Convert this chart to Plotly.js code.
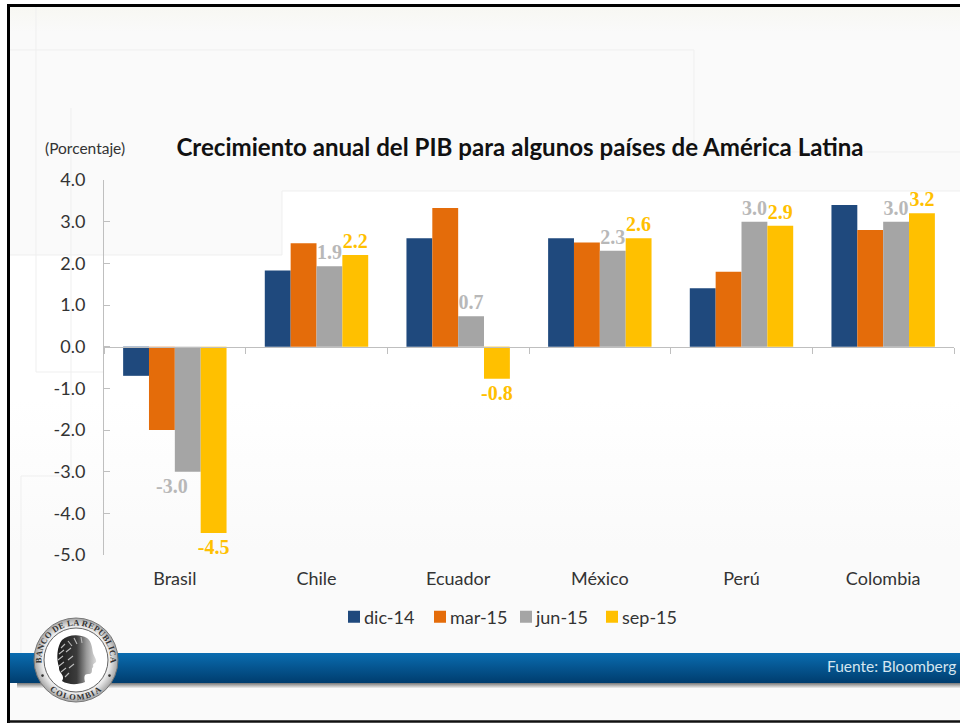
<!DOCTYPE html>
<html><head><meta charset="utf-8">
<script src="https://cdn.plot.ly/plotly-3.0.1.min.js"></script>
<style>
html,body{margin:0;padding:0;background:#fff;overflow:hidden}
#stage{position:relative;width:960px;height:723px}
#bg,#logo{position:absolute;left:0;top:0}
#chart{position:absolute;left:0;top:0;width:960px;height:723px}
#logo{pointer-events:none}
</style></head><body>
<div id="stage">
<svg id="bg" width="960" height="723">
<defs>
<linearGradient id="fade" x1="0" y1="0" x2="0" y2="1"><stop offset="0" stop-color="#fafafa" stop-opacity="0"/><stop offset="1" stop-color="#fafafa" stop-opacity="1"/></linearGradient>
<linearGradient id="topfade" x1="0" y1="0" x2="0" y2="1"><stop offset="0" stop-color="#f7f7f2"/><stop offset="1" stop-color="#fafafa"/></linearGradient>
<linearGradient id="band" x1="0" y1="0" x2="0" y2="1"><stop offset="0" stop-color="#0a6cb0"/><stop offset="1" stop-color="#003d6e"/></linearGradient>
<linearGradient id="shadow" x1="0" y1="0" x2="0" y2="1"><stop offset="0" stop-color="#777"/><stop offset="1" stop-color="#eee"/></linearGradient>
</defs>
<rect x="0" y="0" width="960" height="723" fill="#fff"/>
<rect x="8" y="6" width="952" height="715" fill="#fafafa"/>
<rect x="8" y="6" width="952" height="26" fill="url(#topfade)"/>
<path d="M9 255H282V191H960V400H9Z" fill="#fff"/>
<rect x="9" y="400" width="951" height="150" fill="#fff"/>
<rect x="9" y="400" width="951" height="150" fill="url(#fade)"/>
<g fill="none" stroke="#efefef" stroke-width="1">
<path d="M9 50H694V152H960"/>
<path d="M36 7V372H104"/>
<path d="M10 255H282V191H960"/>
<path d="M71 108V476H21V653"/>
</g>
<rect x="9" y="653" width="951" height="30" fill="url(#band)"/>
<rect x="17" y="683" width="943" height="5" fill="url(#shadow)"/>
<path d="M8.5 723V5.5H960" fill="none" stroke="#000" stroke-width="3"/>
<path d="M8 721.5H960" fill="none" stroke="#111" stroke-width="2.5"/>
</svg>
<div id="chart"></div>
<svg id="logo" width="960" height="723">
<defs>
<radialGradient id="ring" cx="0.5" cy="0.5" r="0.5"><stop offset="0.8" stop-color="#ececec"/><stop offset="1" stop-color="#a5a5a5"/></radialGradient>
<linearGradient id="face" x1="0" y1="0" x2="1" y2="0"><stop offset="0" stop-color="#1c1c1c"/><stop offset="0.5" stop-color="#3c3c3c"/><stop offset="0.75" stop-color="#999"/><stop offset="1" stop-color="#dcdcdc"/></linearGradient>
<path id="arcTop" d="M43.6 671.8A34.5 34.5 0 1 1 108.4 671.8"/>
<path id="arcBot" d="M45.4 685.7A40 40 0 0 0 106.6 685.7"/>
</defs>
<circle cx="76" cy="660" r="42" fill="url(#ring)" stroke="#777" stroke-width="1"/>
<circle cx="76" cy="660" r="32" fill="#fff" stroke="#666" stroke-width="1"/>
<text font-family="Liberation Serif" font-weight="bold" font-size="8.5" fill="#333" letter-spacing="0.2"><textPath href="#arcTop" startOffset="50%" text-anchor="middle">BANCO DE LA REPUBLICA</textPath></text>
<text font-family="Liberation Serif" font-weight="bold" font-size="8.5" fill="#333" letter-spacing="1.2"><textPath href="#arcBot" startOffset="50%" text-anchor="middle">COLOMBIA</textPath></text>
<circle cx="42.5" cy="675.6" r="1.3" fill="#333"/><circle cx="109.5" cy="675.6" r="1.3" fill="#333"/>
<path d="M62 640C68 634 80 634 87 638C92 642 92 648 93 653C94 656 97 660 96 662C95 663 93 664 93 665C94 667 92 668 92 669C92 672 92 674 88 674C84 674 84 677 85 682C78 685 68 685 62 681C66 675 58 673 59 667C56 659 57 646 62 640Z" fill="url(#face)"/>
<path d="M61 648L65 644M59 654L64 650M58 660L63 656M59 666L64 662M61 672L66 668M65 677L69 673M68 641L72 646M74 638L77 644M81 637L82 643M66 652L71 648M68 660L73 656M69 668L74 664" stroke="#bbb" stroke-width="1.1" fill="none"/>
</svg>
</div>
<script>
var categories = ["Brasil","Chile","Ecuador","México","Perú","Colombia"];
var seriesNames = ["dic-14","mar-15","jun-15","sep-15"];
var dic14 = [-0.7,1.83,2.6,2.6,1.4,3.4];
var mar15 = [-2.0,2.48,3.33,2.5,1.8,2.8];
var jun15 = [-3.0,1.93,0.73,2.3,3.0,3.0];
var sep15 = [-4.47,2.2,-0.77,2.6,2.9,3.2];
var jun15Labels = ["","1.9","0.7","2.3","3.0","3.0"];
var sep15Labels = ["-4.5","2.2","-0.8","2.6","2.9","3.2"];
var brasilJunLabel = "-3.0";
var yTicks = [4,3,2,1,0,-1,-2,-3,-4,-5];
var yTickLabels = ["4.0","3.0","2.0","1.0","0.0","-1.0","-2.0","-3.0","-4.0","-5.0"];
var titleText = "Crecimiento anual del PIB para algunos países de América Latina";
var unitText = "(Porcentaje)";
var sourceText = "Fuente: Bloomberg";
var colors = ["#1F497D","#E46C0A","#A5A5A5","#FFC000"];
var FONT = "Lato, 'Open Sans', sans-serif";
var labelFont = "'Liberation Serif', serif";
var traces = [
 {type:"bar",name:seriesNames[0],x:categories,y:dic14,marker:{color:colors[0]},hoverinfo:"x+y"},
 {type:"bar",name:seriesNames[1],x:categories,y:mar15,marker:{color:colors[1]},hoverinfo:"x+y"},
 {type:"bar",name:seriesNames[2],x:categories,y:jun15,marker:{color:colors[2]},text:jun15Labels,textposition:"outside",cliponaxis:false,textangle:0,constraintext:"none",
  textfont:{family:labelFont,size:20,color:"#B8B8B8",weight:"bold"},hoverinfo:"x+y"},
 {type:"bar",name:seriesNames[3],x:categories,y:sep15,marker:{color:colors[3]},text:sep15Labels,textposition:"outside",cliponaxis:false,textangle:0,constraintext:"none",
  textfont:{family:labelFont,size:20,color:"#FFC000",weight:"bold"},hoverinfo:"x+y"}
];
var layout = {
 width:960,height:723,
 paper_bgcolor:"rgba(0,0,0,0)",plot_bgcolor:"rgba(0,0,0,0)",
 font:{family:FONT,color:"#333"},
 margin:{l:104,r:6,t:179.5,b:168,pad:0},
 barmode:"group",bargap:0.27,bargroupgap:0,
 title:{text:"<b>"+titleText+"</b>",font:{family:FONT,size:24.1,color:"#111"},xref:"container",yref:"container",x:520/960,xanchor:"center",y:1-148/723,yanchor:"middle",automargin:false},
 xaxis:{type:"category",categoryorder:"array",categoryarray:categories,range:[-0.5,5.5],anchor:"free",position:5/9,side:"bottom",
   showline:true,linecolor:"#BFBFBF",linewidth:1.5,showgrid:false,zeroline:false,ticks:"outside",tickson:"boundaries",ticklen:6,tickcolor:"#BFBFBF",tickwidth:1,
   tickfont:{family:FONT,size:18,color:"#333"},ticklabelstandoff:215,fixedrange:true},
 yaxis:{range:[-5,4],tickvals:yTicks,ticktext:yTickLabels,showgrid:false,zeroline:false,showline:true,linecolor:"#BFBFBF",linewidth:1,ticks:"inside",ticklen:6,tickcolor:"#BFBFBF",tickwidth:1,
   tickfont:{family:FONT,size:18,color:"#333"},ticklabelstandoff:14,fixedrange:true},
 legend:{orientation:"h",xref:"container",yref:"container",x:334/960,xanchor:"left",y:1-617/723,yanchor:"middle",entrywidth:41,entrywidthmode:"pixels",font:{family:FONT,size:18,color:"#333"},bgcolor:"rgba(0,0,0,0)"},
 annotations:[
  {text:unitText,xref:"paper",yref:"paper",x:(85-104)/850,y:(555-147)/375.5,xanchor:"center",yanchor:"middle",showarrow:false,font:{family:FONT,size:15.5,color:"#333"}},
  {text:sourceText,xref:"paper",yref:"paper",x:(958-104)/850,y:(555-666)/375.5,xanchor:"right",yanchor:"middle",showarrow:false,font:{family:FONT,size:15.5,color:"#D5E6F0"}},
  {text:"<b>"+brasilJunLabel+"</b>",xref:"x",yref:"y",x:categories[0],y:jun15[0],xshift:-3,yshift:-14,xanchor:"center",yanchor:"middle",showarrow:false,font:{family:labelFont,size:20,color:"#B8B8B8"}}
 ],
 showlegend:true
};
Plotly.newPlot("chart",traces,layout,{displayModeBar:false,staticPlot:true}).then(function(gd){
 gd.querySelectorAll(".legendtext").forEach(function(t){t.setAttribute("x","30");});
});
</script>
</body></html>
